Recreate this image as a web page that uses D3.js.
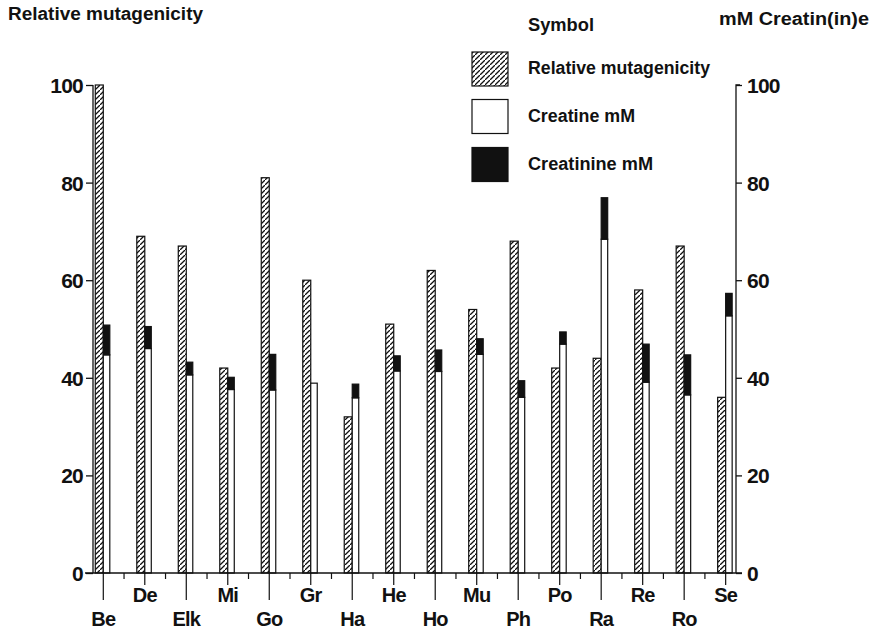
<!DOCTYPE html>
<html>
<head>
<meta charset="utf-8">
<script src="https://cdn.jsdelivr.net/npm/d3@7"></script>
<style>
html,body{margin:0;padding:0;background:#fff;}
text{font-family:"Liberation Sans",Arial,Helvetica,sans-serif;font-weight:bold;fill:#111;}
</style>
</head>
<body>
<svg id="chart" width="871" height="630"></svg>
<script>
const categories = ["Be","De","Elk","Mi","Go","Gr","Ha","He","Ho","Mu","Ph","Po","Ra","Re","Ro","Se"];
const mutagenicity = [100,69,67,42,81,60,32,51,62,54,68,42,44,58,67,36];
const creatine = [44.7,46,40.6,37.6,37.5,38.9,35.9,41.4,41.3,44.8,36,46.9,68.4,39.1,36.5,52.7];
const creatinine = [6.1,4.5,2.6,2.5,7.3,0,2.8,3.1,4.4,3.2,3.4,2.5,8.5,7.8,8.2,4.6];
const yTicks = [0,20,40,60,80,100];
const legendLabels = ["Relative mutagenicity","Creatine mM","Creatinine mM"];

const svg = d3.select("#chart");
const defs = svg.append("defs");
const pat = defs.append("pattern").attr("id","hatch").attr("patternUnits","userSpaceOnUse")
  .attr("width",5).attr("height",5);
pat.append("rect").attr("width",5).attr("height",5).attr("fill","#fff");
pat.append("path").attr("d","M-1,6 L6,-1 M-2,1 L1,-2 M4,7 L7,4").attr("stroke","#111").attr("stroke-width",1.3);

const x = d3.scaleBand().domain(categories).range([82.55,746.4]).paddingInner(0).paddingOuter(0);
const y = d3.scaleLinear().domain([0,100]).range([573,85]);
const xLeft = 93, xRight = 736;
const cx = c => x(c) + x.bandwidth()/2;

// bars
const g = svg.append("g");
categories.forEach((c,i)=>{
  const xc = cx(c);
  g.append("rect").attr("x",xc-8).attr("y",y(mutagenicity[i])).attr("width",8)
    .attr("height",y(0)-y(mutagenicity[i])).attr("fill","url(#hatch)").attr("stroke","#111").attr("stroke-width",1.2);
  g.append("rect").attr("x",xc).attr("y",y(creatine[i])).attr("width",6.5)
    .attr("height",y(0)-y(creatine[i])).attr("fill","#fff").attr("stroke","#111").attr("stroke-width",1.2);
  if (creatinine[i]>0) {
    g.append("rect").attr("x",xc).attr("y",y(creatine[i]+creatinine[i])).attr("width",6.5)
      .attr("height",y(creatine[i])-y(creatine[i]+creatinine[i])).attr("fill","#111").attr("stroke","#111").attr("stroke-width",1.2);
  }
});

// left axis
const la = svg.append("g").attr("transform",`translate(${xLeft},0)`)
  .call(d3.axisLeft(y).tickValues(yTicks).tickSize(7).tickPadding(3).tickFormat(d3.format("d")));
la.selectAll("text").style("font-size","21px").style("letter-spacing","-0.8px").attr("dy","0.36em");
la.select(".domain").attr("d",`M0,${y(0)}V${y(100)}H0`).attr("stroke","#111").attr("stroke-width",1.3);
la.selectAll(".tick line").attr("stroke","#111").attr("stroke-width",1.3);

// right axis
const ra = svg.append("g").attr("transform",`translate(${xRight},0)`)
  .call(d3.axisRight(y).tickValues(yTicks).tickSize(6).tickPadding(5).tickFormat(d3.format("d")));
ra.selectAll("text").style("font-size","21px").style("letter-spacing","-0.8px").attr("dy","0.36em");
ra.select(".domain").attr("d",`M0,${y(0)}V${y(100)}H4`).attr("stroke","#111").attr("stroke-width",1.3);
ra.selectAll(".tick line").attr("stroke","#111").attr("stroke-width",1.3);

// baseline
svg.append("line").attr("x1",85).attr("x2",742).attr("y1",y(0)).attr("y2",y(0)).attr("stroke","#111").attr("stroke-width",1.4);

// minor ticks at band boundaries
categories.slice(1).forEach(c=>{
  svg.append("line").attr("x1",x(c)).attr("x2",x(c)).attr("y1",y(0)).attr("y2",y(0)+6).attr("stroke","#111").attr("stroke-width",1.2);
});
// category ticks and labels
categories.forEach((c,i)=>{
  const lower = i%2===0;
  svg.append("line").attr("x1",cx(c)).attr("x2",cx(c)).attr("y1",y(0)).attr("y2",y(0)+(lower?27:12))
    .attr("stroke","#111").attr("stroke-width",1.2);
  svg.append("text").attr("x",cx(c)).attr("y",lower?626:602).attr("text-anchor","middle")
    .style("font-size","20px").style("letter-spacing","-0.8px").text(c);
});

// headers
svg.append("text").attr("x",8).attr("y",20).style("font-size","18px")
  .attr("textLength",195).attr("lengthAdjust","spacingAndGlyphs").text("Relative mutagenicity");
svg.append("text").attr("x",528).attr("y",31).style("font-size","18px")
  .attr("textLength",66).attr("lengthAdjust","spacingAndGlyphs").text("Symbol");
svg.append("text").attr("x",719).attr("y",25).style("font-size","18px")
  .attr("textLength",150).attr("lengthAdjust","spacingAndGlyphs").text("mM Creatin(in)e");

// legend
const legFills = ["url(#hatch)","#fff","#111"];
const legTop = [52,99.5,147.5];
const legW = [182,107,125];
legendLabels.forEach((l,i)=>{
  svg.append("rect").attr("x",472).attr("y",legTop[i]).attr("width",36).attr("height",34)
    .attr("fill",legFills[i]).attr("stroke","#111").attr("stroke-width",1.2);
  svg.append("text").attr("x",528).attr("y",legTop[i]+22).style("font-size","18px")
    .attr("textLength",legW[i]).attr("lengthAdjust","spacingAndGlyphs").text(l);
});
</script>
</body>
</html>
